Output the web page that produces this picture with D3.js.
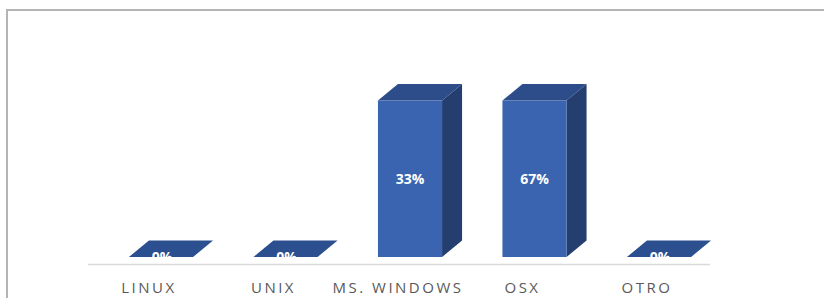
<!DOCTYPE html>
<html>
<head>
<meta charset="utf-8">
<script src="https://cdn.jsdelivr.net/npm/d3@7"></script>
<style>
  body { margin: 0; background: #fff; }
  svg { display: block; }
</style>
</head>
<body>
<div id="chart"></div>
<script>
// sistemas operativos usados
var categories = ["LINUX", "UNIX", "MS. WINDOWS", "OSX", "OTRO"];
var values = [0, 0, 0.33, 0.67, 0];
// the value axis stops at 33%, so the OSX bar is cut off at the same height
var axisMax = 0.33;

var width = 824, height = 298;
var svg = d3.select("#chart").append("svg")
    .attr("width", width).attr("height", height);

// chart frame
svg.append("rect")
    .attr("x", 7).attr("y", 10)
    .attr("width", 830).attr("height", 300)
    .attr("fill", "none").attr("stroke", "#b4b4b4").attr("stroke-width", 2);

var x = d3.scaleBand().domain(categories).range([98.75, 721.25])
    .paddingInner(0.485).paddingOuter(0.2425);
var y = d3.scaleLinear().domain([0, axisMax]).range([257, 100.5]).clamp(true);

var dx = 20, dy = -16.5;

// floor line
svg.append("line")
    .attr("x1", 88).attr("x2", 710)
    .attr("y1", 264.5).attr("y2", 264.5)
    .attr("stroke", "#d9d9d9").attr("stroke-width", 1.5);

var bars = svg.selectAll("g.bar")
    .data(categories.map(function(c, i){ return {cat: c, v: values[i], i: i}; }))
    .enter().append("g").attr("class", "bar");

// clip for the 0% labels (they hide under the flat top face)
bars.append("clipPath")
    .attr("id", function(d){ return "clip" + d.i; })
    .append("path")
    .attr("d", function(d){
        var x0 = x(d.cat), w = x.bandwidth(), yb = y(0);
        return "M" + x0 + "," + yb + "L" + (x0 + dx) + "," + (yb + dy) +
            "L" + (x0 + w + dx) + "," + (yb + dy) + "L" + (x0 + w) + "," + yb + "Z";
    });

// side face
bars.filter(function(d){ return d.v > 0; }).append("path")
    .attr("fill", "#243f6f")
    .attr("d", function(d){
        var x1 = x(d.cat) + x.bandwidth(), yt = y(d.v), yb = y(0);
        return "M" + x1 + "," + yb + "L" + (x1 + dx) + "," + (yb + dy) +
            "L" + (x1 + dx) + "," + (yt + dy) + "L" + x1 + "," + yt + "Z";
    });

// top face
bars.append("path")
    .attr("fill", function(d){ return d.v > 0 ? "#2d4c8a" : "#2c4f8f"; })
    .attr("d", function(d){
        var x0 = x(d.cat), w = x.bandwidth(), yt = y(d.v);
        return "M" + x0 + "," + yt + "L" + (x0 + dx) + "," + (yt + dy) +
            "L" + (x0 + w + dx) + "," + (yt + dy) + "L" + (x0 + w) + "," + yt + "Z";
    });

// front face
bars.filter(function(d){ return d.v > 0; }).append("rect")
    .attr("x", function(d){ return x(d.cat); })
    .attr("y", function(d){ return y(d.v); })
    .attr("width", x.bandwidth())
    .attr("height", function(d){ return y(0) - y(d.v); })
    .attr("fill", "#3a63b0");

// value labels
bars.append("text")
    .attr("x", function(d){ return x(d.cat) + x.bandwidth() / 2 + (d.v > 0 ? 0 : 1); })
    .attr("y", function(d){ return d.v > 0 ? (y(d.v) + y(0)) / 2 + 5 : y(0) + 5; })
    .attr("clip-path", function(d){ return d.v > 0 ? null : "url(#clip" + d.i + ")"; })
    .attr("text-anchor", "middle")
    .attr("fill", "#fff")
    .attr("font-family", "'Open Sans', 'DejaVu Sans', sans-serif")
    .attr("font-weight", "bold")
    .attr("font-size", 14)
    .text(function(d){ return d3.format(".0%")(d.v); });

// category labels
svg.append("g").selectAll("text")
    .data(categories)
    .enter().append("text")
    .attr("x", function(d){ return x(d) + x.bandwidth() / 2 - 12; })
    .attr("y", 293)
    .attr("text-anchor", "middle")
    .attr("fill", "#595959")
    .attr("font-family", "'Open Sans', 'DejaVu Sans', sans-serif")
    .attr("font-size", 15)
    .attr("letter-spacing", "2.5px")
    .text(function(d){ return d; });
</script>
</body>
</html>
